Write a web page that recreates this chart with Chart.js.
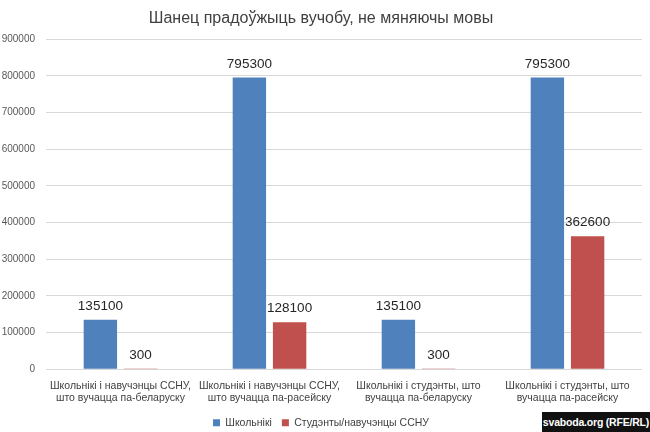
<!DOCTYPE html>
<html>
<head>
<meta charset="utf-8">
<script src="https://cdn.jsdelivr.net/npm/chart.js@4"></script>
<style>
html,body{margin:0;padding:0;background:#fff;}
#wrap{position:relative;width:650px;height:432px;}
#wm{position:absolute;right:0;bottom:0;width:108px;height:20px;background:#111;color:#fff;font:bold 10.5px "Liberation Sans",Arial,sans-serif;line-height:20px;text-align:center;white-space:nowrap;letter-spacing:-0.2px;}
</style>
</head>
<body>
<div id="wrap">
<canvas id="c" width="650" height="432"></canvas>
<div id="wm">svaboda.org (RFE/RL)</div>
</div>
<script>
const categories = [
  ["Школьнікі і навучэнцы ССНУ,", "што вучацца па-беларуску"],
  ["Школьнікі і навучэнцы ССНУ,", "што вучацца па-расейску"],
  ["Школьнікі і студэнты, што", "вучацца па-беларуску"],
  ["Школьнікі і студэнты, што", "вучацца па-расейску"]
];
const schoolchildren = [135100, 795300, 135100, 795300];
const students = [300, 128100, 300, 362600];
const seriesNames = ["Школьнікі", "Студэнты/навучэнцы ССНУ"];
const titleText = "Шанец прадоўжыць вучобу, не мяняючы мовы";

const valueLabels = {
  id: 'valueLabels',
  afterDatasetsDraw(chart) {
    const ctx = chart.ctx;
    ctx.save();
    ctx.font = '13.5px "Liberation Sans", Arial, sans-serif';
    ctx.fillStyle = '#262626';
    ctx.textAlign = 'center';
    ctx.textBaseline = 'bottom';
    chart.data.datasets.forEach((ds, i) => {
      chart.getDatasetMeta(i).data.forEach((bar, j) => {
        ctx.fillText(String(ds.data[j]), bar.x, bar.y - 7);
      });
    });
    ctx.restore();
  }
};

new Chart(document.getElementById('c'), {
  type: 'bar',
  data: {
    labels: categories,
    datasets: [
      { label: seriesNames[0], data: schoolchildren, backgroundColor: '#4f81bd', borderColor: '#4f81bd' },
      { label: seriesNames[1], data: students, backgroundColor: '#c0504d', borderColor: '#c0504d' }
    ]
  },
  options: {
    responsive: false,
    animation: false,
    devicePixelRatio: 1,
    categoryPercentage: 0.54,
    barPercentage: 0.83,
    layout: { padding: { left: 0, right: 8, top: 7, bottom: -6 } },
    plugins: {
      title: { display: true, text: titleText, color: '#404040',
        font: { family: '"Liberation Sans", Arial, sans-serif', size: 16, weight: 'normal' },
        padding: { top: 2, bottom: 11 } },
      legend: { position: 'bottom',
        labels: { boxWidth: 7, boxHeight: 7, padding: 10, color: '#404040',
          font: { family: '"Liberation Sans", Arial, sans-serif', size: 10.5 } } },
      tooltip: { enabled: false }
    },
    scales: {
      y: {
        min: 0, max: 900000,
        afterFit: s => { s.width = 46; },
        ticks: { stepSize: 100000, color: '#595959', padding: 11,
          callback: v => String(v),
          font: { family: '"Liberation Sans", Arial, sans-serif', size: 10 } },
        grid: { color: '#d9d9d9', drawTicks: false },
        border: { display: false }
      },
      x: {
        ticks: { color: '#404040', maxRotation: 0, autoSkip: false, padding: 3,
          font: { family: '"Liberation Sans", Arial, sans-serif', size: 10.5, lineHeight: 1.15 } },
        grid: { display: false },
        border: { display: false }
      }
    }
  },
  plugins: [valueLabels]
});
</script>
</body>
</html>
